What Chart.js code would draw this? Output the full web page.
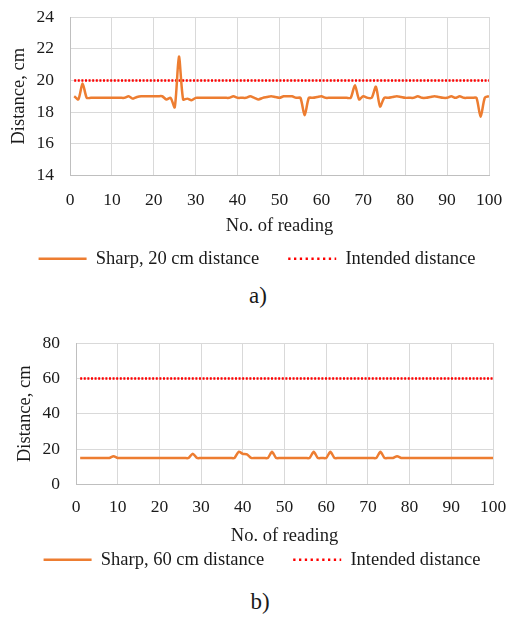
<!DOCTYPE html>
<html>
<head>
<meta charset="utf-8">
<script src="https://cdn.jsdelivr.net/npm/chart.js@4"></script>
<style>
  body { margin: 0; background: #fff; width: 514px; height: 617px; position: relative; overflow: hidden; }
  .box { position: absolute; left: 0; width: 514px; }
  .cap { position: absolute; width: 514px; text-align: center; font-family: 'Liberation Serif', 'Times New Roman', serif; font-size: 23px; color: #1a1a1a; }
</style>
</head>
<body>
<div class="box" style="top:0;height:280px"><canvas id="chartA"></canvas></div>
<div class="cap" style="left:1px;top:283px">a)</div>
<div class="box" style="top:325px;height:256px"><canvas id="chartB"></canvas></div>
<div class="cap" style="left:3px;top:589px">b)</div>
<script>
// readings 1..100
let distA = [
  19.0, 18.8, 19.8, 18.9, 18.9, 18.9, 18.9, 18.9, 18.9, 18.9,
  18.9, 18.9, 18.9, 19.0, 18.85, 18.95, 19.0, 19.0, 19.0, 19.0,
  19.0, 19.0, 18.8, 18.9, 18.3, 21.5, 18.8, 18.85, 18.75, 18.9,
  18.9, 18.9, 18.9, 18.9, 18.9, 18.9, 18.9, 18.9, 19.0, 18.9,
  18.9, 18.9, 19.0, 18.9, 18.8, 18.9, 18.95, 19.0, 18.95, 18.9,
  19.0, 19.0, 19.0, 18.9, 18.9, 17.8, 18.9, 18.9, 18.95, 19.0,
  18.9, 18.9, 18.9, 18.9, 18.9, 18.9, 18.9, 19.7, 18.8, 19.0,
  18.9, 18.9, 19.6, 18.35, 18.9, 18.9, 18.95, 19.0, 18.95, 18.9,
  18.9, 18.9, 19.0, 18.9, 18.9, 18.95, 19.0, 18.95, 18.9, 18.9,
  19.0, 18.9, 19.0, 18.9, 18.9, 18.9, 18.9, 17.7, 18.9, 19.0
];
let distB = [
  15, 15, 15, 15, 15, 15, 15, 15, 16.0, 15,
  15, 15, 15, 15, 15, 15, 15, 15, 15, 15,
  15, 15, 15, 15, 15, 15, 15, 17.4, 15, 15,
  15, 15, 15, 15, 15, 15, 15, 15, 18.5, 17.3,
  17.0, 15, 15, 15, 15, 15, 18.5, 15, 15, 15,
  15, 15, 15, 15, 15, 15, 18.5, 15, 15, 15,
  18.5, 15, 15, 15, 15, 15, 15, 15, 15, 15,
  15, 15, 18.5, 15, 15, 15, 16.0, 15, 15, 15,
  15, 15, 15, 15, 15, 15, 15, 15, 15, 15,
  15, 15, 15, 15, 15, 15, 15, 15, 15, 15
];
let intendedX = [1, 100];
let intendedA = [20, 20];
let intendedB = [60, 60];
let xTicks = [0, 100, 10];      // min, max, step
let yTicksA = [14, 24, 2];
let yTicksB = [0, 80, 20];
let labelsA = ['Sharp, 20 cm distance', 'Intended distance'];
let labelsB = ['Sharp, 60 cm distance', 'Intended distance'];

const FONT = "'Liberation Serif', 'Times New Roman', serif";
const TXT = '#1a1a1a';
const GRID = '#d9d9d9';
const NOCOL = 'rgba(0,0,0,0)';

function toPoints(values){
  return values.map(function(v, i){ return {x: i + 1, y: v}; });
}
function pairPoints(xs, ys){
  return xs.map(function(x, i){ return {x: x, y: ys[i]}; });
}

// legend sample of the dotted line uses wider dots, like the original
function legendItems(chart){
  let items = Chart.defaults.plugins.legend.labels.generateLabels(chart);
  items[1].lineDash = [2.3, 3.5];
  return items;
}

function makeChart(id, dist, intended, yTicks, labels, s){
  let ctx = document.getElementById(id).getContext('2d');
  return new Chart(ctx, {
    type: 'line',
    data: {
      datasets: [
        {
          label: labels[0],
          data: toPoints(dist),
          borderColor: '#ed7d31',
          backgroundColor: '#ed7d31',
          borderWidth: 2.5,
          pointRadius: 0,
          tension: 0.25
        },
        {
          label: labels[1],
          data: pairPoints(intendedX, intended),
          borderColor: '#ff0000',
          backgroundColor: '#ff0000',
          borderWidth: 2.5,
          borderDash: [2, 1.6],
          pointRadius: 0
        }
      ]
    },
    options: {
      responsive: true,
      maintainAspectRatio: false,
      animation: false,
      layout: { padding: { left: s.padLeft, right: 0, top: s.padTop, bottom: 2 } },
      plugins: {
        tooltip: { enabled: false },
        legend: {
          position: 'bottom',
          labels: {
            usePointStyle: true,
            pointStyle: 'line',
            pointStyleWidth: 48,
            padding: 29,
            color: TXT,
            font: { family: FONT, size: 18.5 },
            generateLabels: legendItems
          }
        }
      },
      scales: {
        x: {
          type: 'linear',
          min: xTicks[0],
          max: xTicks[1],
          grid: { color: GRID, tickLength: s.xTickLen, tickColor: NOCOL },
          border: { color: '#bfbfbf' },
          ticks: { stepSize: xTicks[2], padding: 2, color: TXT, font: { family: FONT, size: 17.5 }, maxRotation: 0, autoSkip: false },
          title: { display: true, text: 'No. of reading', color: TXT, font: { family: FONT, size: 18.5 }, padding: { top: 0, bottom: s.xTitlePad } },
          afterFit: function(scale){ scale.height = s.xHeight; }
        },
        y: {
          min: yTicks[0],
          max: yTicks[1],
          grid: { color: GRID, tickLength: 14, tickColor: NOCOL },
          border: { color: '#bfbfbf' },
          ticks: { stepSize: yTicks[2], padding: 2, color: TXT, font: { family: FONT, size: 17.5 }, autoSkip: false },
          title: { display: true, text: 'Distance, cm', color: TXT, font: { family: FONT, size: 18.5 }, padding: { top: s.yTitlePad, bottom: 0 } },
          afterFit: function(scale){ scale.width = s.yWidth; }
        },
        // empty right-hand margin so the plot ends where the original does
        side: {
          position: 'right',
          grid: { display: false },
          border: { display: false },
          ticks: { display: false },
          afterFit: function(scale){ scale.width = s.rightW; }
        }
      }
    }
  });
}

makeChart('chartA', distA, intendedA, yTicksA, labelsA, {
  padLeft: 0, padTop: 17, yWidth: 70, yTitlePad: 8, rightW: 25,
  xHeight: 45, xTickLen: 12, xTitlePad: -17
});
makeChart('chartB', distB, intendedB, yTicksB, labelsB, {
  padLeft: 10, padTop: 18, yWidth: 66, yTitlePad: 4, rightW: 21,
  xHeight: 37, xTickLen: 10, xTitlePad: -26
});
</script>
</body>
</html>
